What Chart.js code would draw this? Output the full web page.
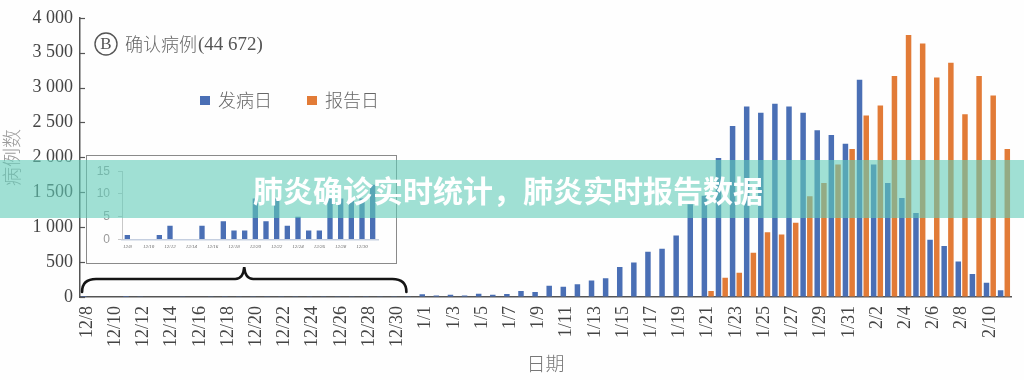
<!DOCTYPE html>
<html>
<head>
<meta charset="utf-8">
<script src="https://cdn.jsdelivr.net/npm/chart.js@4.4.1/dist/chart.umd.min.js"></script>
<style>
html,body{margin:0;padding:0;background:#fefefe;}
#wrap{position:relative;width:1024px;height:380px;overflow:hidden;background:#fefefe;}
#main{position:absolute;left:0;top:0;}
#insetBox{position:absolute;left:86px;top:155px;width:309px;height:107px;border:1.5px solid #8a8a8a;background:#fefefe;}
#inset{position:absolute;left:0;top:0;}
#banner{position:absolute;left:0;top:160px;width:1024px;height:58px;background:rgba(97,203,183,0.6);color:#fff;
  font-family:"Noto Sans CJK SC";font-weight:700;font-size:30px;line-height:58px;text-align:center;text-indent:-8px;letter-spacing:0px;}
</style>
</head>
<body>
<div id="wrap">
  <canvas id="main" width="1024" height="380"></canvas>
  <div id="insetBox"><canvas id="inset" width="309" height="107"></canvas></div>
  <div id="banner">肺炎确诊实时统计，肺炎实时报告数据</div>
</div>
<script>
// ---------- data ----------
const dates = [
  '12/8','12/9','12/10','12/11','12/12','12/13','12/14','12/15','12/16','12/17','12/18','12/19',
  '12/20','12/21','12/22','12/23','12/24','12/25','12/26','12/27','12/28','12/29','12/30','12/31',
  '1/1','1/2','1/3','1/4','1/5','1/6','1/7','1/8','1/9','1/10','1/11','1/12','1/13','1/14','1/15','1/16',
  '1/17','1/18','1/19','1/20','1/21','1/22','1/23','1/24','1/25','1/26','1/27','1/28','1/29','1/30','1/31',
  '2/1','2/2','2/3','2/4','2/5','2/6','2/7','2/8','2/9','2/10','2/11'
];
// 发病日 (onset date)
const onsetCases = [
  1,0,0,1,3,0,0,3,0,4,2,2,
  9,4,9,3,5,2,2,9,9,9,9,12,
  40,20,33,20,48,33,43,86,71,162,148,181,238,267,431,495,
  648,690,881,1330,1450,1990,2450,2730,2640,2767,2730,2640,2390,2320,2195,
  3114,1900,1633,1419,1205,820,729,510,330,205,98
];
// 报告日 (report date)
const reportCases = [
  0,0,0,0,0,0,0,0,0,0,0,0,
  0,0,0,0,0,0,0,0,0,0,0,0,
  0,0,0,0,0,0,0,0,0,0,0,0,0,0,0,0,
  0,0,0,0,86,276,348,633,929,895,1062,1443,1633,1900,2120,
  2600,2743,3167,3752,3633,3143,3357,2619,3167,2886,2120
];
// inset (12/8 - 12/31, onset)
const insetDates = dates.slice(0, 24);
const insetCases = onsetCases.slice(0, 24);

const yTicksMain = [0,500,1000,1500,2000,2500,3000,3500,4000];
const yTicksInset = [0,5,10,15];
const seriesNames = ['发病日','报告日'];
const noteText = '确认病例';
const noteTotal = '(44 672)';

// ---------- styles ----------
const BLUE = '#4a6fb5';
const ORANGE = '#e27b37';
const SERIF = '"Liberation Serif","Times New Roman",serif';
const CJK = '"Noto Sans CJK SC","Noto Sans CJK JP",sans-serif';

function fmtThousands(v){ return String(v).replace(/\B(?=(\d{3})+(?!\d))/g,' '); }

const decor = {
  id:'decor',
  afterDraw(chart){
    const {ctx, chartArea, scales:{x, y}} = chart;
    ctx.save();
    // inward tick marks on y axis
    ctx.strokeStyle = '#555'; ctx.lineWidth = 1.2;
    y.ticks.forEach(t => {
      const py = Math.round(y.getPixelForValue(t.value)) + 0.5;
      ctx.beginPath(); ctx.moveTo(chartArea.left, py); ctx.lineTo(chartArea.left + 5, py); ctx.stroke();
    });
    // brace under the inset (spans 12/8 .. 12/30)
    const bl = x.getPixelForValue(0) - 5, br = x.getPixelForValue(22) + 9;
    const mid = (bl + br) / 2;
    const yEnd = 292, yH = 279, yC = 267;
    ctx.strokeStyle = '#151515'; ctx.lineWidth = 2.6; ctx.lineCap = 'round';
    ctx.beginPath();
    ctx.moveTo(bl, yEnd);
    ctx.quadraticCurveTo(bl, yH, bl + 14, yH);
    ctx.lineTo(mid - 9, yH);
    ctx.quadraticCurveTo(mid - 1, yH, mid, yC);
    ctx.quadraticCurveTo(mid + 1, yH, mid + 9, yH);
    ctx.lineTo(br - 14, yH);
    ctx.quadraticCurveTo(br, yH, br, yEnd);
    ctx.stroke();
    // annotation (B) 确认病例(44 672)
    ctx.lineWidth = 1.4; ctx.strokeStyle = '#555';
    ctx.beginPath(); ctx.arc(106, 44, 11, 0, Math.PI * 2); ctx.stroke();
    ctx.fillStyle = '#555'; ctx.textAlign = 'center'; ctx.textBaseline = 'middle';
    ctx.font = '17px ' + SERIF; ctx.fillText('B', 106, 45);
    ctx.textAlign = 'left';
    ctx.font = '300 18px ' + CJK; ctx.fillStyle = '#666';
    ctx.fillText(noteText, 125, 44);
    const w = ctx.measureText(noteText).width;
    ctx.font = '19px ' + SERIF; ctx.fillStyle = '#555';
    ctx.fillText(noteTotal, 125 + w + 1, 45);
    // legend
    const items = [[seriesNames[0], BLUE, 200], [seriesNames[1], ORANGE, 307]];
    items.forEach(([name, col, lx]) => {
      ctx.fillStyle = col; ctx.fillRect(lx, 96, 10, 9);
      ctx.font = '300 18px ' + CJK; ctx.fillStyle = '#666';
      ctx.fillText(name, lx + 18, 100);
    });
    ctx.restore();
  }
};

new Chart(document.getElementById('main'), {
  type: 'bar',
  data: {
    labels: dates,
    datasets: [
      {label: seriesNames[0], data: onsetCases, backgroundColor: BLUE, categoryPercentage: 0.95, barPercentage: 0.82},
      {label: seriesNames[1], data: reportCases, backgroundColor: ORANGE, categoryPercentage: 0.95, barPercentage: 0.82}
    ]
  },
  options: {
    responsive: false, animation: false, devicePixelRatio: 1,
    layout: {padding: {left: 0, right: 13, top: 17, bottom: 0}},
    plugins: {legend: {display: false}, tooltip: {enabled: false}},
    scales: {
      x: {
        grid: {display: true, drawOnChartArea: false, drawTicks: false},
        border: {display: true, color: '#555', width: 1.5},
        ticks: {
          autoSkip: false, minRotation: 90, maxRotation: 90, padding: 9,
          color: '#444', font: {family: SERIF, size: 18},
          callback: (v, i) => (i % 2 === 0 ? dates[i] : '')
        },
        title: {display: true, text: '日期', color: '#777', font: {family: CJK, size: 19, weight: '300'}, padding: {top: 0, bottom: 5}},
        afterFit: s => { s.height = 83; s.paddingLeft = 0; s.paddingRight = 0; }
      },
      y: {
        min: 0, max: 4000,
        grid: {display: true, drawOnChartArea: false, drawTicks: false},
        border: {display: true, color: '#555', width: 1.5},
        afterBuildTicks: s => { s.ticks = yTicksMain.map(v => ({value: v})); },
        ticks: {padding: 7, color: '#444', font: {family: SERIF, size: 18}, callback: v => fmtThousands(v)},
        title: {display: true, text: '病例数', color: '#9a9a9a', font: {family: CJK, size: 19, weight: '300'}, padding: {top: 0, bottom: 5}},
        afterFit: s => { s.width = 80; }
      }
    }
  },
  plugins: [decor]
});

new Chart(document.getElementById('inset'), {
  type: 'bar',
  data: {
    labels: insetDates,
    datasets: [{label: seriesNames[0], data: insetCases, backgroundColor: BLUE, categoryPercentage: 1, barPercentage: 0.5}]
  },
  options: {
    responsive: false, animation: false, devicePixelRatio: 1,
    layout: {padding: {left: 0, right: 18, top: 15, bottom: 0}},
    plugins: {legend: {display: false}, tooltip: {enabled: false}},
    scales: {
      x: {
        grid: {display: true, drawOnChartArea: false, drawTicks: false},
        border: {display: true, color: '#c5cfe0', width: 1.5},
        ticks: {autoSkip: false, minRotation: 0, maxRotation: 0, padding: 4, color: '#666',
          font: {family: SERIF, size: 5, style: 'italic'},
          callback: (v, i) => (i % 2 === 0 ? insetDates[i] : '')},
        afterFit: s => { s.height = 23.5; s.paddingLeft = 0; s.paddingRight = 0; }
      },
      y: {
        min: 0, max: 15,
        grid: {display: true, drawOnChartArea: false, drawTicks: true, tickLength: 4, color: '#c8c8c8'},
        border: {display: true, color: '#c8c8c8', width: 1},
        afterBuildTicks: s => { s.ticks = yTicksInset.map(v => ({value: v})); },
        ticks: {padding: 8, color: '#9a9a9a', font: {family: '"Liberation Sans",sans-serif', size: 12}},
        afterFit: s => { s.width = 35; }
      }
    }
  }
});
</script>
</body>
</html>
